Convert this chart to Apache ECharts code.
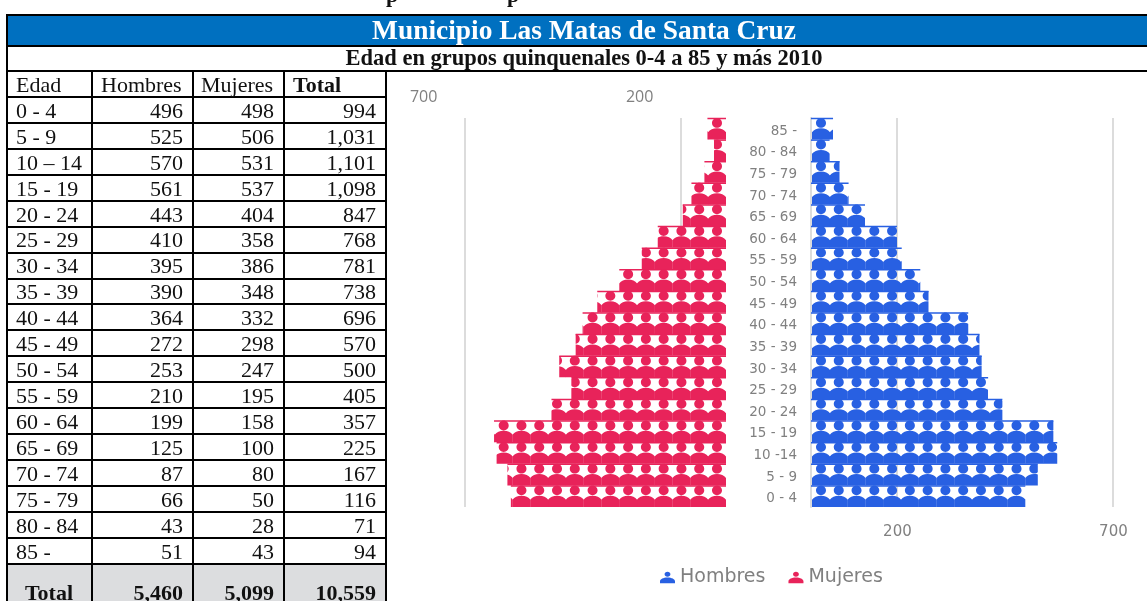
<!DOCTYPE html>
<html>
<head>
<meta charset="utf-8">
<style>html,body{margin:0;padding:0;background:#fff;overflow:hidden}#c{width:1147px;height:601px}</style>
<script src="https://cdn.jsdelivr.net/npm/echarts@6/dist/echarts.min.js"></script>
</head>
<body>
<div id="c"></div>
<script>
const titleText = 'Municipio Las Matas de Santa Cruz';
const subtitleText = 'Edad en grupos quinquenales 0-4 a 85 y más 2010';
const tableHeader = ['Edad', 'Hombres', 'Mujeres', 'Total'];
const tableAges = ['0 - 4','5 - 9','10 – 14','15 - 19','20 - 24','25 - 29','30 - 34','35 - 39','40 - 44','45 - 49','50 - 54','55 - 59','60 - 64','65 - 69','70 - 74','75 - 79','80 - 84','85 -'];
const chartAges = ['0 - 4','5 - 9','10 -14','15 - 19','20 - 24','25 - 29','30 - 34','35 - 39','40 - 44','45 - 49','50 - 54','55 - 59','60 - 64','65 - 69','70 - 74','75 - 79','80 - 84','85 -'];
const hombres = [496,525,570,561,443,410,395,390,364,272,253,210,199,125,87,66,43,51];
const mujeres = [498,506,531,537,404,358,386,348,332,298,247,195,158,100,80,50,28,43];
const totales = ['994','1,031','1,101','1,098','847','768','781','738','696','570','500','405','357','225','167','116','71','94'];
const totalRow = ['Total','5,460','5,099','10,559'];
const tickValues = [200, 700];

const RED = '#E8235A', BLUE = '#2860E2', GREY_TXT = '#808080', SERIF = '"Liberation Serif", serif';
const person = 'path://M9 0C11.8 0 14 2.2 14 5C14 7.8 11.8 10 9 10C6.2 10 4 7.8 4 5C4 2.2 6.2 0 9 0ZM0 22L0 14.5C2 12 5 10.5 9 10.5C13 10.5 16 12 18 14.5L18 22Z';
const legendIcon = 'path://M9 0C11 0 12.5 1.4 12.5 3C12.5 4.7 11 6 9 6C7 6 5.5 4.7 5.5 3C5.5 1.4 7 0 9 0ZM0 14L0 11.5C0 9 4 7 9 7C14 7 18 9 18 11.5L18 14Z';

const colX = [7, 92, 193, 284, 386];
const rowTop = 97, rowH = 25.93, totalTop = 564;
const g = [];
const rect = (x, y, w, h, fill, z) => g.push({type:'rect', shape:{x, y, width:w, height:h}, style:{fill}, z: z || 10, silent:true});
const text = (t, x, y, align, o) => g.push({type:'text', x, y, z:12, silent:true, style:Object.assign({text:t, align, verticalAlign:'middle', font:'22px ' + SERIF, fill:'#111'}, o || {})});

rect(6, 15, 1141, 31, '#0070C0');
rect(colX[0], totalTop, colX[4] - colX[0], 38, '#DCDDDF');
rect(6, 14, 1141, 2, '#000', 11);
rect(6, 45, 1141, 2, '#000', 11);
rect(6, 70, 1141, 2, '#000', 11);
for (let i = 0; i <= 18; i++) rect(6, Math.round(rowTop + i * rowH) - 1, 381, 2, '#000', 11);
rect(6, 14, 2, 587, '#000', 11);
for (let i = 1; i < 5; i++) rect(colX[i] - 1, 70, 2, 531, '#000', 11);

text('p', 392, -4, 'center', {font:'bold 22px ' + SERIF});
text('p', 513, -4, 'center', {font:'bold 22px ' + SERIF});
text(titleText, 584, 32, 'center', {font:'bold 27.4px ' + SERIF, fill:'#fff'});
text(subtitleText, 584, 59, 'center', {font:'bold 22.5px ' + SERIF});
text(tableHeader[0], 16, 86, 'left');
text(tableHeader[1], 101, 86, 'left');
text(tableHeader[2], 201, 86, 'left');
text(tableHeader[3], 293, 86, 'left', {font:'bold 22px ' + SERIF});
tableAges.forEach((a, i) => {
  const y = rowTop + i * rowH + 15;
  text(a, 16, y, 'left');
  text(String(hombres[i]), 183, y, 'right');
  text(String(mujeres[i]), 274, y, 'right');
  text(totales[i], 376, y, 'right');
});
const ty = 594;
text(totalRow[0], 49, ty, 'center', {font:'bold 22px ' + SERIF});
text(totalRow[1], 183, ty, 'right', {font:'bold 22px ' + SERIF});
text(totalRow[2], 274, ty, 'right', {font:'bold 22px ' + SERIF});
text(totalRow[3], 376, ty, 'right', {font:'bold 22px ' + SERIF});

function topLine(color, gridIdx) {
  return {
    type:'custom', xAxisIndex:gridIdx, yAxisIndex:gridIdx, silent:true, z:2,
    encode:{x:0, y:1},
    renderItem(params, api) {
      const end = api.coord([api.value(0), api.value(1)]);
      const base = api.coord([0, api.value(1)]);
      const band = api.size([0, 1])[1];
      const y = end[1] - band / 2;
      return {type:'line', shape:{x1:base[0], y1:y + 0.5, x2:end[0], y2:y + 0.5}, style:{stroke:color, lineWidth:1.5}};
    }
  };
}
const withIdx = v => v.map((x, i) => [x, i]);
const pictorial = (name, data, color, gridIdx, pos, shift) => ({
  name, type:'pictorialBar', xAxisIndex:gridIdx, yAxisIndex:gridIdx, data, z:3,
  symbol:person, symbolRepeat:'fixed', symbolMargin:0, symbolClip:true, symbolPosition:pos, symbolOffset:[shift, 0],
  symbolSize:[18, 21.6], barWidth:'100%', barCategoryGap:'0%', itemStyle:{color}
});

const option = {
  animation:false,
  backgroundColor:'#fff',
  graphic:{elements:g},
  legend:{
    data:[{name:'Hombres', icon:legendIcon}, {name:'Mujeres', icon:legendIcon}],
    left:655, top:563, itemWidth:15, itemHeight:12, itemGap:23,
    textStyle:{fontFamily:'"DejaVu Sans"', fontSize:19, color:GREY_TXT}
  },
  grid:[
    {left:465, width:648, top:118, height:389},
    {left:423.6, width:302.4, top:118, height:389},
    {left:811, width:302.4, top:118, height:389},
    {left:811, width:302.4, top:120.5, height:389}
  ],
  xAxis:[
    {gridIndex:0, type:'value', min:0, max:1500, interval:500, axisLine:{show:false}, axisTick:{show:false}, axisLabel:{show:false},
     splitLine:{show:true, lineStyle:{color:'#DCDCDC', width:2}}},
    {gridIndex:1, type:'value', inverse:true, min:0, max:700, position:'top', axisLine:{show:false}, axisTick:{show:false}, splitLine:{show:false},
     axisLabel:{customValues:tickValues, margin:13, fontFamily:'"Open Sans"', fontSize:16, color:GREY_TXT}},
    {gridIndex:2, type:'value', min:0, max:700, position:'bottom', axisLine:{show:false}, axisTick:{show:false}, splitLine:{show:false},
     axisLabel:{customValues:tickValues, margin:18, fontFamily:'"DejaVu Sans"', fontSize:15, color:GREY_TXT}},
    {gridIndex:3, type:'value', min:0, max:700, show:false}
  ],
  yAxis:[
    {gridIndex:0, type:'category', data:chartAges, show:false},
    {gridIndex:1, type:'category', data:chartAges, show:false},
    {gridIndex:2, type:'category', data:chartAges, axisTick:{show:false}, axisLabel:{show:false},
     axisLine:{show:true, lineStyle:{color:'#DCDCDC', width:2}}},
    {gridIndex:3, type:'category', data:chartAges, axisTick:{show:false}, axisLine:{show:false},
     axisLabel:{interval:0, margin:14, fontFamily:'"DejaVu Sans"', fontSize:13.5, color:GREY_TXT}}
  ],
  series:[
    Object.assign(topLine(RED, 1), {data:withIdx(mujeres)}),
    Object.assign(topLine(BLUE, 2), {data:withIdx(hombres)}),
    pictorial('Mujeres', mujeres, RED, 1, 'end', 0),
    pictorial('Hombres', hombres, BLUE, 2, 'start', 1)
  ]
};
const chart = echarts.init(document.getElementById('c'), null, {renderer:'canvas'});
chart.setOption(option);
</script>
</body>
</html>
